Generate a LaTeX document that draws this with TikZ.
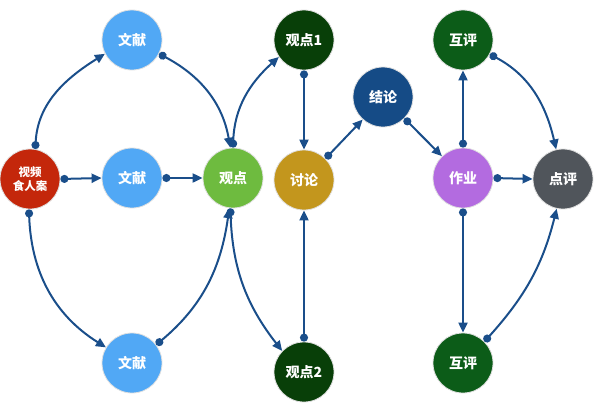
\documentclass[tikz,border=0pt]{standalone}
\usepackage{fontspec}
\newfontfamily\cjk{Noto Sans CJK SC}
\usetikzlibrary{arrows.meta}
\definecolor{cred}{HTML}{C4270B}
\definecolor{cblue}{HTML}{51A8F5}
\definecolor{cgreen}{HTML}{6EBB3F}
\definecolor{cdgreen}{HTML}{083F08}
\definecolor{cgold}{HTML}{C3961D}
\definecolor{cnavy}{HTML}{154B86}
\definecolor{cmgreen}{HTML}{0C5C18}
\definecolor{cpurple}{HTML}{B36BE0}
\definecolor{cgray}{HTML}{50555B}
\definecolor{cedge}{HTML}{1A4E8A}
\begin{document}
\begin{tikzpicture}[x=1pt,y=-1pt,
  nd/.style={circle,minimum size=60pt,inner sep=0pt,draw=black!12,line width=0.8pt,
    text=white,font=\cjk\bfseries\fontsize{14}{15}\selectfont,align=center},
  conn/.style={draw=cedge,line width=2pt,
    {Circle[length=8pt,width=8pt]}-{Triangle[length=10pt,width=9pt]}}]
\useasboundingbox (0,0) rectangle (596,405);
\node[nd,fill=cred,font=\cjk\bfseries\fontsize{11.5}{14}\selectfont] (v) at (30,179) {视频\\食人案};
\node[nd,fill=cblue] (w1) at (132,40) {文献};
\node[nd,fill=cblue] (m) at (132,178) {文献};
\node[nd,fill=cblue] (b) at (132,363) {文献};
\node[nd,fill=cgreen] (g) at (233,178) {观点};
\node[nd,fill=cdgreen] (o1) at (304,40) {观点1};
\node[nd,fill=cgold] (t) at (304,180) {讨论};
\node[nd,fill=cdgreen] (o2) at (304,372) {观点2};
\node[nd,fill=cnavy] (c) at (383,97) {结论};
\node[nd,fill=cmgreen] (h1) at (463,40) {互评};
\node[nd,fill=cpurple] (z) at (463,178) {作业};
\node[nd,fill=cgray] (d) at (563,179) {点评};
\node[nd,fill=cmgreen] (h2) at (463,363) {互评};
% edges
\draw[conn] (v.80) to[out=87,in=212] (w1.207);
\draw[conn] (v.east) -- (m.west);
\draw[conn] (v.268) to[out=-88,in=148] (b.149);
\draw[conn] (w1.333) to[out=-28,in=100] (g.95);
\draw[conn] (m.east) -- (g.west);
\draw[conn] (b.37) to[out=40,in=262] (g.263);
\draw[conn] (g.90) to[out=88,in=222] (o1.214);
\draw[conn] (g.265) to[out=-88,in=128] (o2.136);
\draw[conn] (o1.south) -- (t.north);
\draw[conn] (o2.north) -- (t.south);
\draw[conn] (t.45) -- (c.228);
\draw[conn] (c.315) -- (z.134);
\draw[conn] (z.north) -- (h1.south);
\draw[conn] (z.east) -- (d.west);
\draw[conn] (z.south) -- (h2.north);
\draw[conn] (h1.332) to[out=-28,in=103] (d.103);
\draw[conn] (h2.45) to[out=48,in=256] (d.258);
\end{tikzpicture}
\end{document}
